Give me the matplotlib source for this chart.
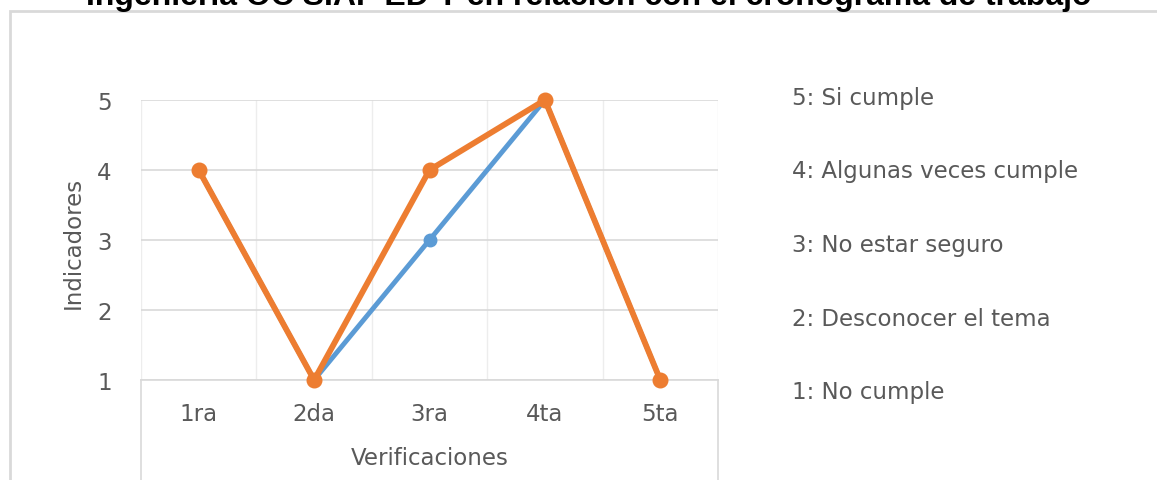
import matplotlib
matplotlib.use("Agg")
import matplotlib.pyplot as plt
import matplotlib.transforms as mtransforms
from matplotlib.patches import Rectangle
from matplotlib.ticker import MultipleLocator, FixedLocator

# Data
verificaciones = ["1ra", "2da", "3ra", "4ta", "5ta"]
serie_azul = [4, 1, 3, 5, 1]
serie_naranja = [4, 1, 4, 5, 1]
escala = ["5: Si cumple", "4: Algunas veces cumple", "3: No estar seguro",
          "2: Desconocer el tema", "1: No cumple"]
titulo = "Ingeniería OC SIAF ED Y en relación con el cronograma de trabajo"

AZUL = "#5B9BD5"
NARANJA = "#ED7D31"
GRIS_TXT = "#595959"
GRIS_LIN = "#d9d9d9"
FUENTE = ["DejaVu Sans"]
TAM = 16.5

W, H = 1157, 481
fig = plt.figure(figsize=(W / 100, H / 100), dpi=100)
fig.patch.set_facecolor("white")

# chart frame (runs past the right and bottom edges)
fig.patches.append(Rectangle((10 / W, -0.1), 1.2, 1 - 12 / H + 0.1,
                             transform=fig.transFigure, fill=False,
                             edgecolor=GRIS_LIN, lw=2))

# title sits partly above the canvas
fig.text(589 / W, 1 - 5 / H, titulo, ha="center", va="baseline",
         fontsize=23, fontweight="bold",
         family=["Liberation Sans", "DejaVu Sans"], color="black")

# plot area
x0, x1, ytop, ybot = 141, 718, 101, 381
ax = fig.add_axes([x0 / W, 1 - ybot / H, (x1 - x0) / W, (ybot - ytop) / H])
x = list(range(len(verificaciones)))

ax.set_xlim(-0.5, len(verificaciones) - 0.5)
ax.set_ylim(1, 5)

ax.yaxis.set_major_locator(MultipleLocator(1))
ax.xaxis.set_major_locator(FixedLocator(x))
ax.xaxis.set_minor_locator(MultipleLocator(0.5))
ax.grid(axis="y", which="major", color=GRIS_LIN, lw=1.2)
ax.grid(axis="x", which="minor", color="#ededed", lw=1.0)
ax.set_axisbelow(True)
for s in ["top", "right", "left"]:
    ax.spines[s].set_visible(False)
ax.spines["bottom"].set_color(GRIS_LIN)
ax.spines["bottom"].set_linewidth(1.2)

ax.plot(x, serie_azul, color=AZUL, lw=3.5, marker="o", ms=9,
        clip_on=False, zorder=3, solid_capstyle="round")
ax.plot(x, serie_naranja, color=NARANJA, lw=4.2, marker="o", ms=10.5,
        clip_on=False, zorder=4, solid_capstyle="round")

ax.set_xticks(x)
ax.set_xticklabels(verificaciones)
ax.tick_params(axis="both", which="both", length=0, colors=GRIS_TXT,
               labelsize=TAM)
ax.tick_params(axis="x", pad=16)
ax.tick_params(axis="y", pad=21)
for lab in ax.get_xticklabels() + ax.get_yticklabels():
    lab.set_family(FUENTE)

# category box edges running down to the bottom of the canvas
trans = mtransforms.blended_transform_factory(ax.transData, fig.transFigure)
for xb in (-0.5, len(verificaciones) - 0.5):
    ax.plot([xb, xb], [0, 1 - ybot / H], transform=trans, color=GRIS_LIN,
            lw=1.2, clip_on=False)

ax.set_xlabel("Verificaciones", fontsize=TAM, color=GRIS_TXT, family=FUENTE)
ax.xaxis.label.set_va("center")
ax.xaxis.set_label_coords(0.5, (ybot - 459) / (ybot - ytop))
ax.set_ylabel("Indicadores", fontsize=TAM, color=GRIS_TXT, family=FUENTE)
ax.yaxis.label.set_va("center")
ax.yaxis.set_label_coords((73 - x0) / (x1 - x0), (ybot - 243) / (ybot - ytop))

# rating scale listed to the right of the plot
for i, texto in enumerate(escala):
    fig.text(792 / W, 1 - (98 + 73.75 * i) / H, texto, ha="left",
             va="center", fontsize=TAM, color=GRIS_TXT, family=FUENTE)

fig.savefig("out.png", dpi=100, facecolor="white")
